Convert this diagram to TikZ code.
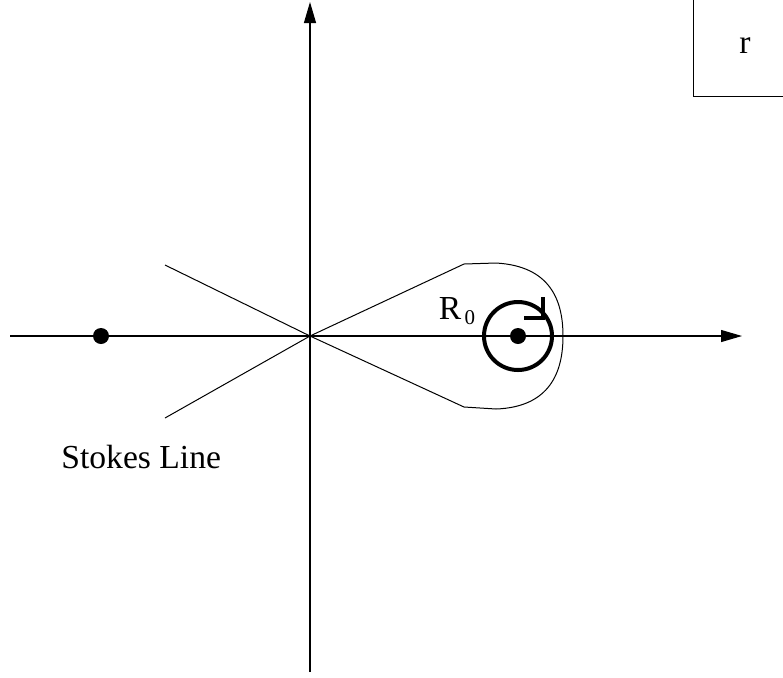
\documentclass[tikz,border=0pt]{standalone}
\usepackage{fontspec}
\setmainfont{Liberation Serif}
\usetikzlibrary{arrows.meta, positioning, calc}

\begin{document}
\begin{tikzpicture}[x=0.5pt, y=-0.5pt, >={Triangle[length=10.5pt,width=6pt]}]
    \tikzstyle{axis} = [draw, ->, line width=0.55pt]
    \tikzstyle{stokes} = [draw, line width=0.5pt]
    \tikzstyle{pole} = [circle, fill, inner sep=0pt, minimum size=8pt]
    \tikzstyle{txt} = [inner sep=0pt, font=\fontsize{16.8}{20}\selectfont]
    \tikzstyle{loop} = [draw, line width=2pt, line join=miter]

    \useasboundingbox (0,0) rectangle (783,677);

    % axes
    \coordinate (O) at (310,336);
    \coordinate (xl) at (10,336);
    \coordinate (xr) at (742,336);
    \coordinate (yb) at (310,672);
    \coordinate (yt) at (310,2);
    \path [axis] (xl) -- (xr);
    \path [axis] (yb) -- (yt);

    % stokes lines and contour
    \coordinate (s1) at (165,265);
    \coordinate (s2) at (165,418);
    \coordinate (c1) at (464,264);
    \coordinate (c2) at (464,407);
    \path [stokes] (s1) -- (O);
    \path [stokes] (s2) -- (O);
    \path [stokes] (O) -- (c1) -- (496,263)
        .. controls (550,266) and (563,300) .. (563,336)
        .. controls (563,372) and (550,407) .. (496,409) -- (c2) -- (O);

    % poles
    \node [pole] (p1) at (101,336) {};
    \node [pole] (p2) at (518,336) {};
    \path [loop] (p2.center) circle (34);
    \coordinate (tip) at (543,318);
    \path [loop] ($(tip)+(0,-21)$) -- (tip) -- ($(tip)+(-19,0)$);

    % labels
    \node [txt] (r0) at (457,311) {R\raisebox{-0.35ex}{\fontsize{10.5}{12}\selectfont\,0}};
    \node [txt, anchor=base west] (stk) at (61,468) {Stokes Line};
    \node [txt] (rlab) at (745,46) {r};
    \path [stokes] (693,0) -- (693,96) -- (783,96);
\end{tikzpicture}
\end{document}
